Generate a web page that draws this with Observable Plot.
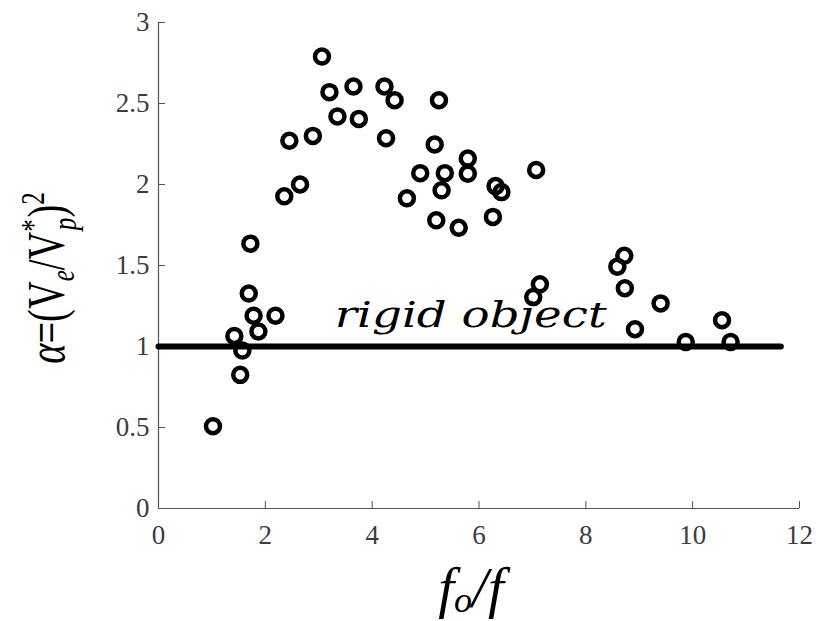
<!DOCTYPE html>
<html>
<head>
<meta charset="utf-8">
<script src="https://cdn.jsdelivr.net/npm/d3@7"></script>
<script src="https://cdn.jsdelivr.net/npm/@observablehq/plot@0.6"></script>
<style>
  html, body { margin: 0; padding: 0; background: #fff; }
  #chart { width: 817px; height: 621px; }
</style>
</head>
<body>
<div id="chart"></div>
<script>
// f0/f values
const ratio = [1.02, 1.42, 1.53, 1.57, 1.69, 1.72, 1.78, 1.87, 2.19, 2.355, 2.45, 2.65, 2.89, 3.06, 3.20, 3.35, 3.65, 3.75, 4.23, 4.26, 4.42, 4.65, 4.90, 5.17, 5.20, 5.25, 5.30, 5.36, 5.62, 5.79, 5.79, 6.26, 6.31, 6.42, 7.015, 7.07, 7.14, 8.59, 8.72, 8.73, 8.92, 9.40, 9.87, 10.55, 10.71];
// alpha values
const alpha = [0.508, 1.065, 0.825, 0.975, 1.327, 1.635, 1.19, 1.093, 1.19, 1.927, 2.27, 2.0, 2.30, 2.79, 2.57, 2.42, 2.605, 2.405, 2.605, 2.286, 2.52, 1.915, 2.07, 2.247, 1.779, 2.52, 1.964, 2.07, 1.733, 2.16, 2.067, 1.80, 1.99, 1.953, 1.305, 2.09, 1.384, 1.493, 1.56, 1.36, 1.107, 1.266, 1.028, 1.162, 1.028];
const xTicks = [0, 2, 4, 6, 8, 10, 12];
const yTicks = [0, 0.5, 1, 1.5, 2, 2.5, 3];
const rigidLine = [{x: 0, y: 1}, {x: 11.65, y: 1}];
const rigidLabel = [{x: 3.3, y: 1.12, text: "rigid object"}];

const points = ratio.map((r, i) => ({x: r, y: alpha[i]}));
const axisColor = "#555";
const tickFont = "'Liberation Serif', 'DejaVu Serif', serif";

const chart = Plot.plot({
  width: 817,
  height: 621,
  marginLeft: 158,
  marginRight: 18,
  marginTop: 22,
  marginBottom: 113,
  style: {fontFamily: tickFont, fontSize: "27px", background: "#fff"},
  x: {domain: [0, 12]},
  y: {domain: [0, 3]},
  marks: [
    Plot.ruleY([0], {x1: 0, x2: 12, stroke: axisColor, strokeWidth: 1.2}),
    Plot.ruleX([0], {y1: 0, y2: 3, stroke: axisColor, strokeWidth: 1.2}),
    Plot.axisX({ticks: xTicks, tickSize: -7, tickPadding: 23, stroke: axisColor, fill: "#3c3c3c", fontSize: 27, label: null, tickFormat: d => String(d)}),
    Plot.axisY({ticks: yTicks, tickSize: -7, tickPadding: 16, stroke: axisColor, fill: "#3c3c3c", fontSize: 27, label: null, tickFormat: d => String(d)}),
    Plot.line(rigidLine, {x: "x", y: "y", stroke: "#000", strokeWidth: 6}),
    Plot.text(rigidLabel, {x: "x", y: "y", text: "text", textAnchor: "start", lineAnchor: "bottom", fontSize: 36, fontStyle: "italic", fill: "#000", fontFamily: "'DejaVu Serif', serif"}),
    Plot.dot(points, {x: "x", y: "y", r: 7, stroke: "#000", strokeWidth: 4.5, fill: "none"})
  ]
});

document.getElementById("chart").appendChild(chart);

const svg = d3.select(chart);
svg.selectAll("g[aria-label$='tick label'] text").style("font-size", "27px");
// widen the "rigid object" label to the reference's width
svg.selectAll("text").filter(function() { return this.textContent === "rigid object"; })
  .each(function() {
    const w = this.getComputedTextLength();
    const t = this.getAttribute("transform") || "";
    if (w > 0) this.setAttribute("transform", t + ` scale(${272 / w},1)`);
  });

// axis titles with sub/superscripts
const yl = svg.append("text")
  .attr("transform", "translate(64,278) rotate(-90) scale(0.74,1)")
  .attr("text-anchor", "middle")
  .attr("font-family", "'Liberation Serif', serif")
  .attr("font-size", 52)
  .attr("fill", "#000");
yl.append("tspan").attr("font-style", "italic").text("α");
yl.append("tspan").text("=(V");
yl.append("tspan").attr("font-style", "italic").attr("font-size", 34).attr("dy", 10).text("e");
yl.append("tspan").attr("dy", -10).text("/V");
yl.append("tspan").attr("font-size", 34).attr("dy", -20).text("*");
yl.append("tspan").attr("font-style", "italic").attr("font-size", 34).attr("dx", -15).attr("dy", 32).text("p");
yl.append("tspan").attr("dy", -12).text(")");
yl.append("tspan").attr("font-size", 34).attr("dy", -20).text("2");

const xl = svg.append("text")
  .attr("x", 471)
  .attr("y", 607)
  .attr("text-anchor", "middle")
  .attr("font-family", "'Liberation Serif', serif")
  .attr("font-size", 57)
  .attr("font-style", "italic")
  .attr("fill", "#000");
xl.append("tspan").text("f");
xl.append("tspan").attr("font-size", 36).attr("dy", 5).text("o");
xl.append("tspan").attr("dy", -5).text("/f");
</script>
</body>
</html>
